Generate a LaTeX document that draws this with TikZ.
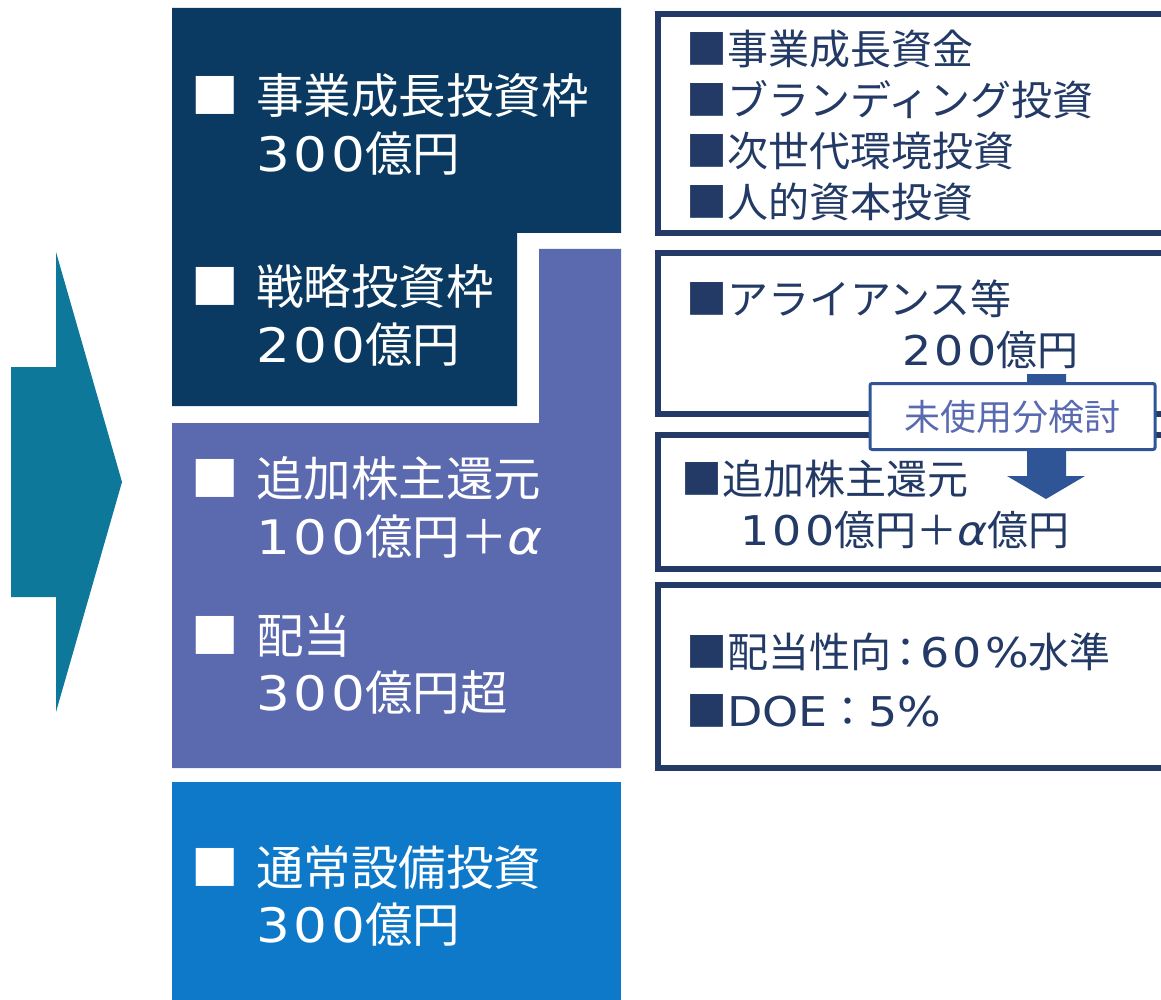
\documentclass[tikz,border=0pt]{standalone}
\usepackage{fontspec}
\setmainfont{Noto Sans CJK JP}
\newfontfamily\latinf[FakeStretch=1.12, LetterSpace=8]{DejaVu Sans}
\newfontfamily\latinp[FakeStretch=1.12]{DejaVu Sans}
\newcommand{\lt}[1]{{\latinf #1}}
\newcommand{\lp}[1]{{\latinp #1}}
\newcommand{\al}{{\latinf\itshape α}}
\newcommand{\cln}{\kern-6pt：\kern-6pt}
\definecolor{navyblk}{HTML}{0A3A61}
\definecolor{purpblk}{HTML}{5B69AF}
\definecolor{blueblk}{HTML}{0E79C9}
\definecolor{tealarr}{HTML}{0D7899}
\definecolor{boxline}{HTML}{223A65}
\definecolor{callline}{HTML}{2F5597}
\definecolor{calltext}{HTML}{5A6AB0}
\tikzset{
  bigtxt/.style={font=\fontsize{47.5}{56}\selectfont, text=white, anchor=base west, inner sep=0pt},
  rtxt/.style={font=\fontsize{41}{48}\selectfont, text=boxline, anchor=base west, inner sep=0pt},
  rbox/.style={draw=boxline, line width=6pt, fill=white, inner sep=0pt},
  calloutbox/.style={draw=callline, line width=3pt, fill=white, rounded corners=2pt,
     text=calltext, font=\fontsize{36}{42}\selectfont, inner sep=0pt,
     minimum width=285pt, minimum height=66pt}
}
\begin{document}
\begin{tikzpicture}[x=1pt,y=-1pt]
\useasboundingbox (0,0) rectangle (1161,1000);
\clip (0,0) rectangle (1161,1000);

% big arrow
\fill[tealarr] (11,367) -- (56,367) -- (56,252) -- (122,482) -- (56,712) -- (56,597) -- (11,597) -- cycle;

% left blocks
\fill[navyblk] (172,8) -- (621,8) -- (621,233) -- (517,233) -- (517,406) -- (172,406) -- cycle;
\fill[purpblk] (539,249) -- (621,249) -- (621,768) -- (172,768) -- (172,423) -- (539,423) -- cycle;
\fill[blueblk] (172,782) rectangle (621,1005);

% right boxes
\node[rbox, minimum width=517pt, minimum height=219pt] (box1) at (916.5,123.5) {};
\node[rbox, minimum width=517pt, minimum height=161pt] (box2) at (916.5,333.5) {};
\node[rbox, minimum width=517pt, minimum height=134pt] (box3) at (916.5,502) {};
\node[rbox, minimum width=517pt, minimum height=183pt] (box4) at (916.5,676.5) {};

% down arrow and callout
\fill[callline] (1027,374) -- (1066,374) -- (1066,476) -- (1085,476) -- (1046,499) -- (1007,476) -- (1027,476) -- cycle;
\node[calloutbox] (call) at (1012.5,416.5) {未使用分検討};

% left texts
\node[bigtxt] (l1a) at (191,114) {\makebox[65pt][l]{■}事業成長投資枠};
\node[bigtxt] (l1b) at (256,172) {\lt{300}億円};
\node[bigtxt] (l2a) at (191,304) {\makebox[65pt][l]{■}戦略投資枠};
\node[bigtxt] (l2b) at (256,362) {\lt{200}億円};
\node[bigtxt] (l3a) at (191,496) {\makebox[65pt][l]{■}追加株主還元};
\node[bigtxt] (l3b) at (256,554) {\lt{100}億円＋\al};
\node[bigtxt] (l4a) at (191,653) {\makebox[65pt][l]{■}配当};
\node[bigtxt] (l4b) at (256,710) {\lt{300}億円超};
\node[bigtxt] (l5a) at (191,885) {\makebox[65pt][l]{■}通常設備投資};
\node[bigtxt] (l5b) at (256,942) {\lt{300}億円};

% right texts
\node[rtxt] (r1) at (686,65) {■事業成長資金};
\node[rtxt] (r2) at (686,116) {■ブランディング投資};
\node[rtxt] (r3) at (686,167) {■次世代環境投資};
\node[rtxt] (r4) at (686,218) {■人的資本投資};
\node[rtxt] (r5) at (686,314) {■アライアンス等};
\node[rtxt] (r6) at (902,365) {\lt{200}億円};
\node[rtxt] (r7) at (681,494) {■追加株主還元};
\node[rtxt] (r8) at (740,545) {\lt{100}億円＋\al 億円};
\node[rtxt] (r9) at (686,667) {■配当性向\cln\lt{60\%}水準};
\node[rtxt] (r10) at (686,726) {■\lp{DOE}：\lp{5\%}};
\end{tikzpicture}
\end{document}
